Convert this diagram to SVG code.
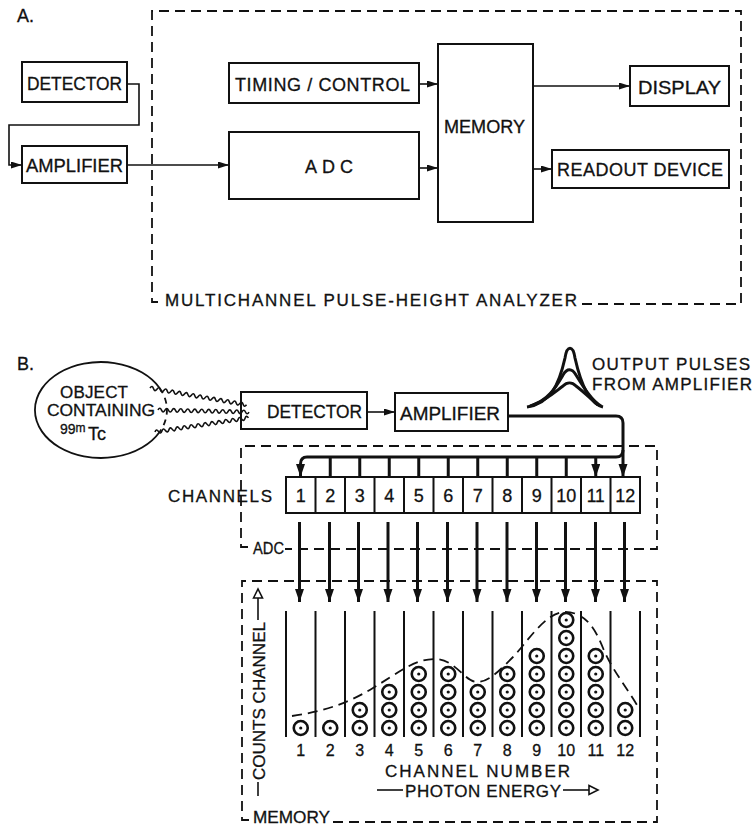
<svg xmlns="http://www.w3.org/2000/svg" xmlns:xlink="http://www.w3.org/1999/xlink" width="756" height="826" viewBox="0 0 756 826">
<style>
text{font-family:"Liberation Sans",Arial,sans-serif;fill:#111;stroke:#111;stroke-width:0.3}
.lbl{font-size:18px}
.box{fill:#fff;stroke:#111;stroke-width:2}
.ln{fill:none;stroke:#111;stroke-width:1.6}
.thk{fill:none;stroke:#111;stroke-width:3}
.dash{fill:none;stroke:#111;stroke-width:1.8;stroke-dasharray:10 6}
.wave{fill:none;stroke:#111;stroke-width:1.6}
.sep{stroke:#111;stroke-width:2}
.cc{fill:#fff;stroke:#111;stroke-width:2.6}
</style>
<defs>
<marker id="ar" markerUnits="userSpaceOnUse" markerWidth="12" markerHeight="8" refX="11" refY="3.5" orient="auto"><path d="M0,0 L11,3.5 L0,7 z" fill="#111"/></marker>
<marker id="ard" markerUnits="userSpaceOnUse" markerWidth="14" markerHeight="10" refX="13" refY="4.5" orient="auto"><path d="M0,0 L13,4.5 L0,9 z" fill="#111"/></marker>
<g id="cir"><circle r="7" class="cc"/><circle r="1.6" fill="#111"/></g>
</defs>

<text x="17" y="22" class="lbl">A.</text>
<g id="analyzer">
<path class="dash" d="M158,302 H152 V11 H741 V304 H580"/>
<text x="165" y="306" font-size="17" textLength="412" lengthAdjust="spacing">MULTICHANNEL PULSE-HEIGHT ANALYZER</text>
</g>
<g id="a-detector"><rect class="box" x="22" y="62" width="105" height="40"/><text x="27" y="90" class="lbl" textLength="95" lengthAdjust="spacingAndGlyphs">DETECTOR</text></g>
<g id="a-amplifier"><rect class="box" x="22" y="146" width="105" height="37"/><text x="26" y="172" class="lbl" textLength="97" lengthAdjust="spacingAndGlyphs">AMPLIFIER</text></g>
<g id="a-timing"><rect class="box" x="229" y="63" width="190" height="40"/><text x="235" y="91" class="lbl" textLength="175" lengthAdjust="spacing">TIMING / CONTROL</text></g>
<g id="a-adc"><rect class="box" x="229" y="132" width="190" height="67"/><text x="305" y="173" class="lbl" letter-spacing="5">ADC</text></g>
<g id="a-memory"><rect class="box" x="438" y="44" width="95" height="178"/><text x="444" y="133" class="lbl" textLength="81" lengthAdjust="spacingAndGlyphs">MEMORY</text></g>
<g id="a-display"><rect class="box" x="630" y="66" width="99" height="40"/><text x="638" y="94" class="lbl" textLength="83" lengthAdjust="spacingAndGlyphs">DISPLAY</text></g>
<g id="a-readout"><rect class="box" x="552" y="150" width="177" height="38"/><text x="557" y="176" class="lbl" textLength="166" lengthAdjust="spacing">READOUT DEVICE</text></g>

<g id="a-connectors">
<path class="ln" d="M127,84 H139 V125 H9 V165 H22" marker-end="url(#ar)"/>
<path class="ln" d="M127,165 H229" marker-end="url(#ar)"/>
<path class="ln" d="M419,84 H438" marker-end="url(#ar)"/>
<path class="ln" d="M419,168 H438" marker-end="url(#ar)"/>
<path class="ln" d="M533,86 H630" marker-end="url(#ar)"/>
<path class="ln" d="M533,169 H552" marker-end="url(#ar)"/>
</g>

<text x="17" y="370" class="lbl">B.</text>
<g id="object">
<path fill="none" stroke="#111" stroke-width="1.8" d="M159.6,388 A66,48 0 1 0 159.6,432"/>
<path fill="none" stroke="#111" stroke-width="1.8" stroke-dasharray="6 5" d="M159.6,388 A66,48 0 0 1 159.6,432"/>
<text x="60" y="398" font-size="17" textLength="68" lengthAdjust="spacing">OBJECT</text>
<text x="47" y="416" font-size="17" textLength="108" lengthAdjust="spacingAndGlyphs">CONTAINING</text>
<text x="60" y="434" font-size="14">99<tspan font-size="12" dy="-2">m</tspan></text>
<text x="88" y="440" font-size="18">Tc</text>
</g>
<g id="b-detector"><rect class="box" x="241" y="392" width="126" height="37"/><text x="267" y="418" class="lbl" textLength="95" lengthAdjust="spacingAndGlyphs">DETECTOR</text></g>
<g id="b-amplifier"><rect class="box" x="395" y="393" width="113" height="38"/><text x="400" y="420" class="lbl" textLength="100" lengthAdjust="spacingAndGlyphs">AMPLIFIER</text></g>
<g id="pulses">
<path class="thk" d="M527,407 C550,404 559,385 565,358 C567,345 573,345 575,358 C581,385 590,404 603,407"/>
<path class="thk" stroke-width="2.6" d="M530,406 C548,401 556,387 563,375 C567,368 572,368 576,375 C584,388 592,401 601,406"/>
<path class="thk" stroke-width="2.4" d="M533,405 C548,399 556,391 563,386 C567,382 572,382 576,386 C584,392 592,400 598,405"/>
<text x="592" y="370" font-size="17" textLength="158" lengthAdjust="spacing">OUTPUT PULSES</text>
<text x="592" y="390" font-size="17" textLength="160" lengthAdjust="spacing">FROM AMPLIFIER</text>
</g>

<g id="adc-box">
<path class="dash" d="M248,547 H241 V446 H657 V549 H285"/>
<text x="253" y="554" font-size="17" textLength="31" lengthAdjust="spacingAndGlyphs">ADC</text>
<text x="168" y="502" font-size="17" textLength="104" lengthAdjust="spacing">CHANNELS</text>
</g>
<g id="channels" font-size="18" text-anchor="middle">
<rect class="box" x="286" y="477" width="354" height="36"/>
<path class="sep" d="M315.5,477V513M345,477V513M374.5,477V513M404,477V513M433.5,477V513M463,477V513M492.5,477V513M522,477V513M551.5,477V513M581,477V513M610.5,477V513"/>
<text x="300.75" y="502">1</text><text x="330.25" y="502">2</text><text x="359.75" y="502">3</text><text x="389.25" y="502">4</text><text x="418.75" y="502">5</text><text x="448.25" y="502">6</text><text x="477.75" y="502">7</text><text x="507.25" y="502">8</text><text x="536.75" y="502">9</text><text x="566.25" y="502" textLength="20" lengthAdjust="spacingAndGlyphs">10</text><text x="595.75" y="502" textLength="18" lengthAdjust="spacingAndGlyphs">11</text><text x="625.25" y="502" textLength="20" lengthAdjust="spacingAndGlyphs">12</text>
</g>

<g id="waves">
<path class="wave" transform="translate(150,388) rotate(9.9)" d="M0,0 q1.75,-3.5 3.5,0 t3.5,0 t3.5,0 t3.5,0 t3.5,0 t3.5,0 t3.5,0 t3.5,0 t3.5,0 t3.5,0 t3.5,0 t3.5,0 t3.5,0 t3.5,0 t3.5,0 t3.5,0 t3.5,0 t3.5,0 t3.5,0 t3.5,0 t3.5,0 t3.5,0 t3.5,0 t3.5,0 t3.5,0 t3.5,0 t3.5,0 t3.5,0"/>
<path class="wave" transform="translate(158,410) rotate(1.3)" d="M0,0 q1.75,-3.5 3.5,0 t3.5,0 t3.5,0 t3.5,0 t3.5,0 t3.5,0 t3.5,0 t3.5,0 t3.5,0 t3.5,0 t3.5,0 t3.5,0 t3.5,0 t3.5,0 t3.5,0 t3.5,0 t3.5,0 t3.5,0 t3.5,0 t3.5,0 t3.5,0 t3.5,0 t3.5,0 t3.5,0 t3.5,0 t3.5,0"/>
<path class="wave" transform="translate(155,432) rotate(-8.6)" d="M0,0 q1.75,-3.5 3.5,0 t3.5,0 t3.5,0 t3.5,0 t3.5,0 t3.5,0 t3.5,0 t3.5,0 t3.5,0 t3.5,0 t3.5,0 t3.5,0 t3.5,0 t3.5,0 t3.5,0 t3.5,0 t3.5,0 t3.5,0 t3.5,0 t3.5,0 t3.5,0 t3.5,0 t3.5,0 t3.5,0 t3.5,0 t3.5,0 t3.5,0"/>
</g>

<g id="b-connectors">
<path class="ln" d="M367,412 H395" marker-end="url(#ar)"/>
<path class="thk" d="M508,416 H616 Q623,416 623,423 V477" marker-end="url(#ard)"/>
<path class="thk" d="M623,450 Q623,457 616,457 H307 Q300.5,457 300.5,464 V477" marker-end="url(#ard)"/>
<path class="thk" d="M330.25,457V477M359.75,457V477M389.25,457V477M418.75,457V477M448.25,457V477M477.75,457V477M507.25,457V477M536.75,457V477M566.25,457V477M595.75,457V477" marker-end="url(#ard)"/>
<g class="thk" marker-end="url(#ard)">
<path d="M299.5,522V602"/><path d="M329.5,522V602"/><path d="M358.5,522V602"/><path d="M388,522V602"/><path d="M417.5,522V602"/><path d="M447.5,522V602"/><path d="M477,522V602"/><path d="M507,522V602"/><path d="M536.5,522V602"/><path d="M565.5,522V602"/><path d="M595.5,522V602"/><path d="M624.5,522V602"/>
</g>
</g>

<g id="memory-box">
<path class="dash" d="M249,820 H242 V581 H657 V822 H331"/>
<text x="253" y="823" font-size="17" textLength="77" lengthAdjust="spacingAndGlyphs">MEMORY</text>
</g>

<g id="histogram">
<path class="sep" d="M286,611V737M315.5,611V737M345,611V737M374.5,611V737M404,611V737M433.5,611V737M463,611V737M492.5,611V737M522,611V737M551.5,611V737M581,611V737M610.5,611V737M640,611V737"/>
<path class="dash" stroke-width="1.8" d="M292,716 C320,712 345,705 373,688 S415,659 435,659 S465,682 477,682 S500,670 513,657 S545,612 565,612 S595,628 603,648 S625,685 637,705"/>
<use xlink:href="#cir" x="300.75" y="728"/>
<use xlink:href="#cir" x="330.25" y="728"/>
<use xlink:href="#cir" x="359.75" y="728"/><use xlink:href="#cir" x="359.75" y="710"/>
<use xlink:href="#cir" x="389.25" y="728"/><use xlink:href="#cir" x="389.25" y="710"/><use xlink:href="#cir" x="389.25" y="692"/>
<use xlink:href="#cir" x="418.75" y="728"/><use xlink:href="#cir" x="418.75" y="710"/><use xlink:href="#cir" x="418.75" y="692"/><use xlink:href="#cir" x="418.75" y="674"/>
<use xlink:href="#cir" x="448.25" y="728"/><use xlink:href="#cir" x="448.25" y="710"/><use xlink:href="#cir" x="448.25" y="692"/><use xlink:href="#cir" x="448.25" y="674"/>
<use xlink:href="#cir" x="477.75" y="728"/><use xlink:href="#cir" x="477.75" y="710"/><use xlink:href="#cir" x="477.75" y="692"/>
<use xlink:href="#cir" x="507.25" y="728"/><use xlink:href="#cir" x="507.25" y="710"/><use xlink:href="#cir" x="507.25" y="692"/><use xlink:href="#cir" x="507.25" y="674"/>
<use xlink:href="#cir" x="536.75" y="728"/><use xlink:href="#cir" x="536.75" y="710"/><use xlink:href="#cir" x="536.75" y="692"/><use xlink:href="#cir" x="536.75" y="674"/><use xlink:href="#cir" x="536.75" y="656"/>
<use xlink:href="#cir" x="566.25" y="728"/><use xlink:href="#cir" x="566.25" y="710"/><use xlink:href="#cir" x="566.25" y="692"/><use xlink:href="#cir" x="566.25" y="674"/><use xlink:href="#cir" x="566.25" y="656"/><use xlink:href="#cir" x="566.25" y="638"/><use xlink:href="#cir" x="566.25" y="620"/>
<use xlink:href="#cir" x="595.75" y="728"/><use xlink:href="#cir" x="595.75" y="710"/><use xlink:href="#cir" x="595.75" y="692"/><use xlink:href="#cir" x="595.75" y="674"/><use xlink:href="#cir" x="595.75" y="656"/>
<use xlink:href="#cir" x="625.25" y="728"/><use xlink:href="#cir" x="625.25" y="710"/>
<g font-size="16" text-anchor="middle">
<text x="300.75" y="756">1</text><text x="330.25" y="756">2</text><text x="359.75" y="756">3</text><text x="389.25" y="756">4</text><text x="418.75" y="756">5</text><text x="448.25" y="756">6</text><text x="477.75" y="756">7</text><text x="507.25" y="756">8</text><text x="536.75" y="756">9</text><text x="566.25" y="756">10</text><text x="595.75" y="756">11</text><text x="625.25" y="756">12</text>
</g>
<text x="385" y="777" font-size="17" textLength="185" lengthAdjust="spacing">CHANNEL NUMBER</text>
<path class="ln" d="M377,790 H403"/>
<text x="405" y="797" font-size="17" textLength="156" lengthAdjust="spacing">PHOTON ENERGY</text>
<path class="ln" d="M563,790 H589"/>
<path d="M589,785.5 L598,790 L589,794.5 z" fill="#fff" stroke="#111" stroke-width="1.6"/>
<path class="ln" d="M258,796 V782"/>
<text transform="translate(265,780) rotate(-90)" font-size="17" textLength="158" lengthAdjust="spacing">COUNTS CHANNEL</text>
<path class="ln" d="M258,620 V598"/>
<path d="M253.5,598 L258,589 L262.5,598 z" fill="#fff" stroke="#111" stroke-width="1.6"/>
</g>
</svg>
